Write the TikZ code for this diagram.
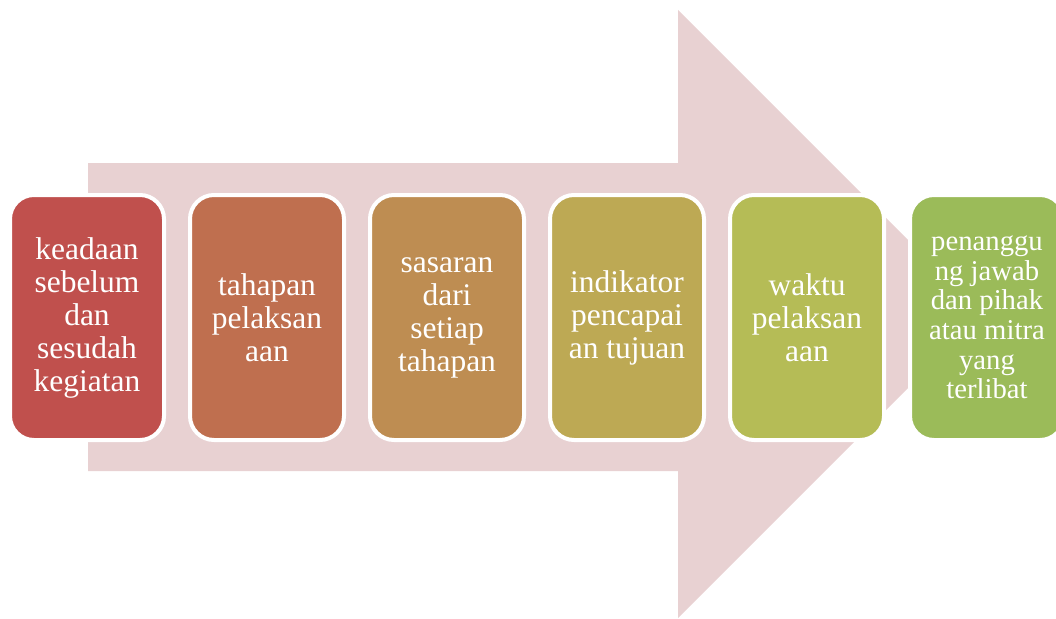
\documentclass[tikz,border=0pt]{standalone}
\usepackage{fontspec}
\setmainfont{Liberation Serif}
\definecolor{arrowpink}{RGB}{232,209,210}
\definecolor{cA}{RGB}{192,80,77}
\definecolor{cB}{RGB}{191,111,79}
\definecolor{cC}{RGB}{190,141,82}
\definecolor{cD}{RGB}{189,169,84}
\definecolor{cE}{RGB}{181,188,86}
\definecolor{cF}{RGB}{155,187,89}
\begin{document}
\begin{tikzpicture}[x=1pt,y=-1pt,
  stagebox/.style={rectangle, rounded corners=24pt, draw=white, line width=4pt,
    minimum width=154pt, minimum height=245pt, inner sep=0pt, align=center,
    text=white, font=\fontsize{31.5}{33}\selectfont},
  smalltext/.style={font=\fontsize{28.7}{29.6}\selectfont}]
\useasboundingbox (0,0) rectangle (1056,618);
\clip (0,0) rectangle (1056,618);
\fill[arrowpink] (88,163) -- (678,163) -- (678,10) -- (982,314) -- (678,618) -- (678,471) -- (88,471) -- cycle;
\node[stagebox, fill=cA] (b1) at (87,317.5) {keadaan\\sebelum\\dan\\sesudah\\kegiatan};
\node[stagebox, fill=cB] (b2) at (267,317.5) {tahapan\\pelaksan\\aan};
\node[stagebox, fill=cC] (b3) at (447,317.5) {sasaran\\dari\\setiap\\tahapan};
\node[stagebox, fill=cD] (b4) at (627,317.5) {indikator\\pencapai\\an tujuan};
\node[stagebox, fill=cE] (b5) at (807,317.5) {waktu\\pelaksan\\aan};
\node[stagebox, smalltext, fill=cF] (b6) at (987,317.5) {penanggu\\ng jawab\\dan pihak\\atau mitra\\yang\\terlibat};
\end{tikzpicture}
\end{document}
